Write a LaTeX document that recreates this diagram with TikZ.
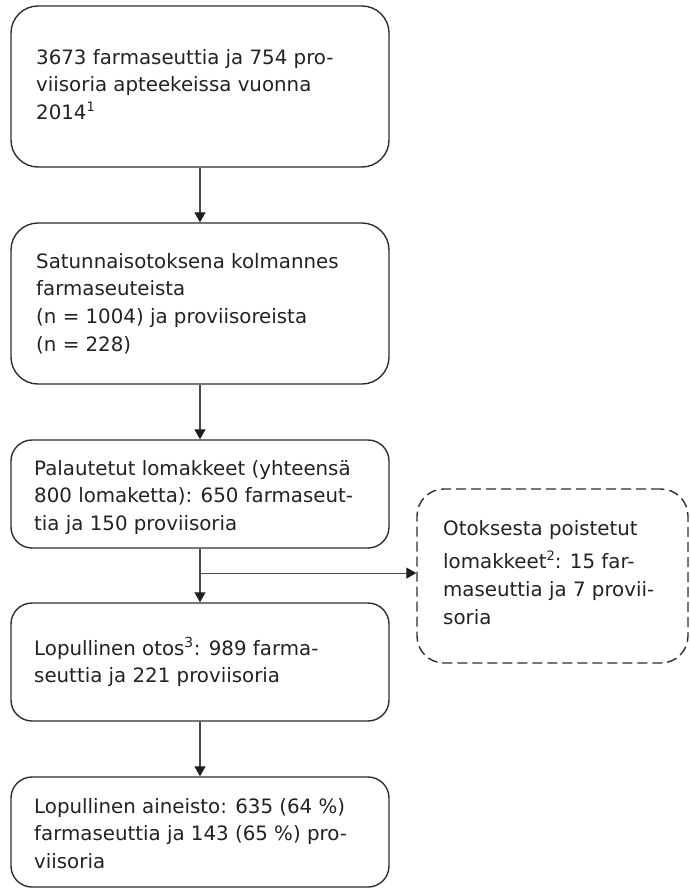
\documentclass[tikz,border=0pt]{standalone}
\usepackage{fontspec}
\setmainfont{DejaVu Sans}
\usetikzlibrary{arrows.meta,calc}
\definecolor{boxcol}{HTML}{2E2E2E}
\definecolor{arrcol}{HTML}{4A4A4A}
\definecolor{headcol}{HTML}{1E1E1E}
\definecolor{textcol}{HTML}{222222}
\newcommand{\hisup}[1]{\raisebox{8.5pt}{\fontsize{13}{13}\selectfont #1}}
\begin{document}
\begin{tikzpicture}[x=1pt,y=-1pt,
  box/.style={draw=boxcol, line width=1.4pt, rounded corners=27pt, minimum width=378pt, inner sep=0pt},
  smallbox/.style={box, rounded corners=21pt},
  dbox/.style={draw=boxcol, line width=1.4pt, rounded corners=27pt, dash pattern=on 10pt off 5pt, minimum width=271pt, inner sep=0pt},
  txt/.style={anchor=north west, inner sep=0pt, align=left, font=\fontsize{19.8}{27.7}\selectfont, text=textcol},
  arr/.style={draw=arrcol, line width=1.1pt, -{Triangle[width=11pt,length=10pt,color=headcol]}}]
\useasboundingbox (0,0) rectangle (689,888);
% boxes
\node[box, minimum height=161pt] (b1) at (200,86.5) {};
\node[box, minimum height=161pt] (b2) at (200,303.5) {};
\node[smallbox, minimum height=108pt] (b3) at (200,494) {};
\node[smallbox, minimum height=118pt] (b4) at (200,662) {};
\node[smallbox, minimum height=110pt] (b5) at (200,832) {};
\node[dbox, minimum height=174pt] (d) at (552.5,576) {};
% texts
\node[txt] (t1) at (36,44) {\rule{0pt}{20pt}3673 farmaseuttia ja 754 pro-\\viisoria apteekeissa vuonna\\2014\hisup{1}};
\node[txt] (t2) at (36,248) {\rule{0pt}{20pt}Satunnaisotoksena kolmannes\\farmaseuteista\\(n = 1004) ja proviisoreista\\(n = 228)};
\node[txt] (t3) at (34,455) {\rule{0pt}{20pt}Palautetut lomakkeet (yhteensä\\800 lomaketta): 650 farmaseut-\\tia ja 150 proviisoria};
\node[txt] (t4) at (34,635) {\rule{0pt}{20pt}Lopullinen otos\textsuperscript{3}: 989 farma-\\seuttia ja 221 proviisoria};
\node[txt] (t5) at (34,793) {\rule{0pt}{20pt}Lopullinen aineisto: 635 (64 \%)\\farmaseuttia ja 143 (65 \%) pro-\\viisoria};
\node[txt] (td) at (443,515) {\rule{0pt}{20pt}Otoksesta poistetut\\[6pt]lomakkeet\hisup{2}: 15 far-\\maseuttia ja 7 provii-\\soria};
% connectors
\draw[arr] (b1.south) -- (b2.north);
\draw[arr] (b2.south) -- (b3.north);
\draw[arr] (b3.south) -- (b4.north);
\coordinate (br) at ($(b3.south)!0.4545!(b4.north)$);
\draw[arr] (br) -- (br -| d.west);
\draw[arr] (b4.south) -- (b5.north);
\end{tikzpicture}
\end{document}
